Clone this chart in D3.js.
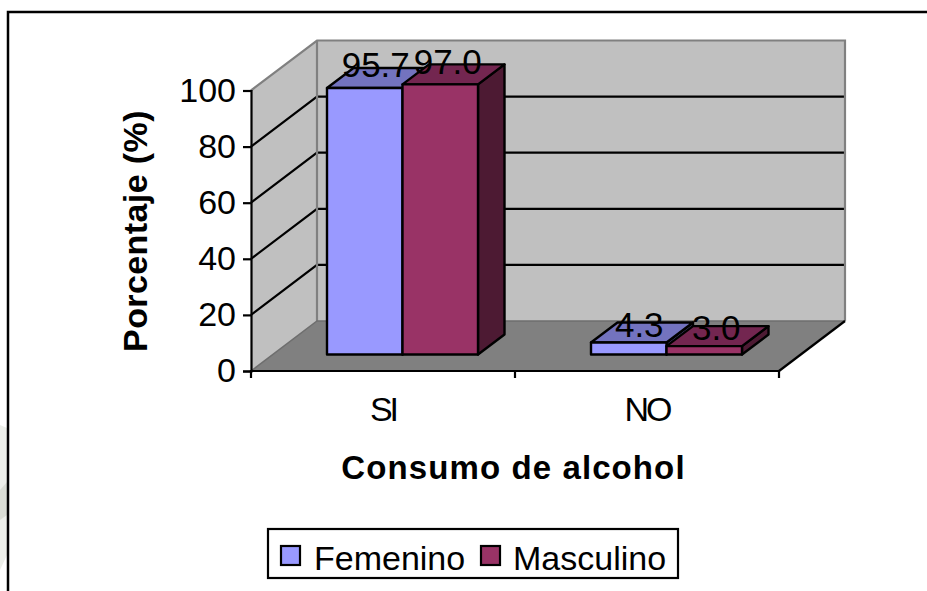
<!DOCTYPE html>
<html><head><meta charset="utf-8">
<script src="https://cdn.jsdelivr.net/npm/d3@7"></script>
<style>html,body{margin:0;padding:0;background:#fff;overflow:hidden}svg{display:block}text{font-family:"Liberation Sans",Arial,sans-serif;fill:#000}</style>
</head><body><div id="c"></div>
<script>
const categories = ["SI", "NO"];
const seriesNames = ["Femenino", "Masculino"];
const femenino = [95.7, 4.3];
const masculino = [97.0, 3.0];
const yTicks = [0, 20, 40, 60, 80, 100];
const xTitle = "Consumo de alcohol";
const yTitle = "Porcentaje (%)";
const fronts = ["#9999ff", "#993366"];
const tops = ["#7373bf", "#732650"];
const sides = ["#4d4d80", "#4d1a33"];

const W = 927, H = 591;
const svg = d3.select("#c").append("svg").attr("width", W).attr("height", H);
const x0 = 251, x1 = 779, yBase = 371, yTop = 90.5;
const wallDx = 66, wallDy = -50;
const y = d3.scaleLinear().domain([0, 100]).range([yBase, yTop]);
const x = d3.scaleBand().domain(categories).range([x0, x1]);
const h = d3.scaleLinear().domain([0, 100]).range([0, 278.5]);
const line = d3.line();

// faint scan residue at left edge
svg.append("path").attr("d", "M0,425 L7,428 L7,555 L0,570 Z").attr("fill", "#eceee9");
svg.append("path").attr("d", "M0,490 L7,482 L7,515 L0,520 Z").attr("fill", "#d9dcd4");

// outer frame
svg.append("path").attr("d", line([[8, H], [8, 12], [W, 12]])).attr("fill", "none").attr("stroke", "#000").attr("stroke-width", 2.5);

// walls and floor
const g = svg.append("g");
g.append("path").attr("d", line([[x0, yBase], [x0 + wallDx, yBase + wallDy], [x0 + wallDx, yTop + wallDy], [x0, yTop]]) + "Z").attr("fill", "#c0c0c0");
g.append("path").attr("d", line([[x0 + wallDx, yBase + wallDy], [x1 + wallDx, yBase + wallDy], [x1 + wallDx, yTop + wallDy], [x0 + wallDx, yTop + wallDy]]) + "Z").attr("fill", "#c0c0c0");
g.append("path").attr("d", line([[x0, yBase], [x1, yBase], [x1 + wallDx, yBase + wallDy], [x0 + wallDx, yBase + wallDy]]) + "Z").attr("fill", "#808080");

// gridlines
yTicks.filter(t => t > 0 && t < 100).forEach(t => {
  g.append("path").attr("d", line([[x0, y(t)], [x0 + wallDx, y(t) + wallDy], [x1 + wallDx, y(t) + wallDy]]))
    .attr("fill", "none").attr("stroke", "#000").attr("stroke-width", 2.2);
});
// wall borders
g.append("path").attr("d", line([[x0, yTop], [x0 + wallDx, yTop + wallDy], [x1 + wallDx, yTop + wallDy], [x1 + wallDx, yBase + wallDy]]))
  .attr("fill", "none").attr("stroke", "#808080").attr("stroke-width", 2.2);
g.append("path").attr("d", line([[x0 + wallDx, yTop + wallDy], [x0 + wallDx, yBase + wallDy]]))
  .attr("fill", "none").attr("stroke", "#808080").attr("stroke-width", 2.2);
g.append("path").attr("d", line([[x0, yBase], [x0 + wallDx, yBase + wallDy], [x1 + wallDx, yBase + wallDy]]))
  .attr("fill", "none").attr("stroke", "#6e6e6e").attr("stroke-width", 1.5);
g.append("path").attr("d", line([[x1, yBase], [x1 + wallDx, yBase + wallDy]]))
  .attr("fill", "none").attr("stroke", "#000").attr("stroke-width", 2.2);

// bars
const barW = 75.5, barBase = 354.5, dx = 26.5, dy = -20, shift = 19.5;
const series = [femenino, masculino];
const bars = svg.append("g");
const labels = [];
const labelLift = [10.5, 6];
const labelShift = [[11, 7.5], [10.5, 12]];
categories.forEach((c, ci) => {
  const center = x(c) + x.bandwidth() / 2 + shift;
  series.forEach((vals, si) => {
    const v = vals[ci];
    const l = center + (si - 1) * barW, r = l + barW, t = barBase - h(v), b = barBase;
    const gg = bars.append("g").attr("stroke", "#000").attr("stroke-width", 2.4).attr("stroke-linejoin", "round");
    gg.append("path").attr("d", line([[r, b], [r + dx, b + dy], [r + dx, t + dy], [r, t]]) + "Z").attr("fill", sides[si]);
    gg.append("path").attr("d", line([[l, t], [r, t], [r + dx, t + dy], [l + dx, t + dy]]) + "Z").attr("fill", tops[si]);
    gg.append("path").attr("d", line([[l, t], [r, t], [r, b], [l, b]]) + "Z").attr("fill", fronts[si]);
    labels.push({x: (l + r) / 2 + labelShift[ci][si], y: t - labelLift[ci], v});
  });
});
svg.append("g").selectAll("text").data(labels).join("text")
  .attr("x", d => d.x).attr("y", d => d.y).attr("text-anchor", "middle")
  .attr("font-size", 35).text(d => d.v.toFixed(1));

// axes
const axY = svg.append("g").attr("transform", `translate(${x0},0)`)
  .call(d3.axisLeft(y).tickValues(yTicks).tickSize(8).tickPadding(7).tickFormat(d3.format("d")));
const axX = svg.append("g").attr("transform", `translate(0,${yBase})`)
  .call(d3.axisBottom(x).tickSize(0).tickPadding(26));
[axY, axX].forEach(a => {
  a.selectAll("text").attr("font-size", 34).attr("font-family", '"Liberation Sans",Arial,sans-serif');
  a.selectAll("path,line").attr("stroke", "#000").attr("stroke-width", 2.2);
});
axX.selectAll("text").attr("letter-spacing", -3);
axX.select(".domain").attr("d", `M${x0},7V0H${x1}V7`);
axX.append("line").attr("x1", (x0 + x1) / 2).attr("x2", (x0 + x1) / 2).attr("y1", 0).attr("y2", 7).attr("stroke", "#000").attr("stroke-width", 2.2);

// titles
svg.append("text").attr("x", 513.5).attr("y", 479).attr("text-anchor", "middle").attr("font-weight", "bold").attr("font-size", 33).attr("letter-spacing", 1.1).text(xTitle);
svg.append("text").attr("transform", "translate(147,231) rotate(-90)").attr("text-anchor", "middle").attr("font-weight", "bold").attr("font-size", 34).attr("letter-spacing", 0.4).text(yTitle);

// legend
const lg = svg.append("g");
lg.append("rect").attr("x", 268).attr("y", 529).attr("width", 410).attr("height", 49).attr("fill", "#fff").attr("stroke", "#000").attr("stroke-width", 2.2);
const lx = [281, 481], tx = [314, 513];
seriesNames.forEach((n, i) => {
  lg.append("rect").attr("x", lx[i]).attr("y", 546).attr("width", 19).attr("height", 19).attr("fill", fronts[i]).attr("stroke", "#000").attr("stroke-width", 2.2);
  lg.append("text").attr("x", tx[i]).attr("y", 570).attr("font-size", 34).text(n);
});
</script></body></html>
